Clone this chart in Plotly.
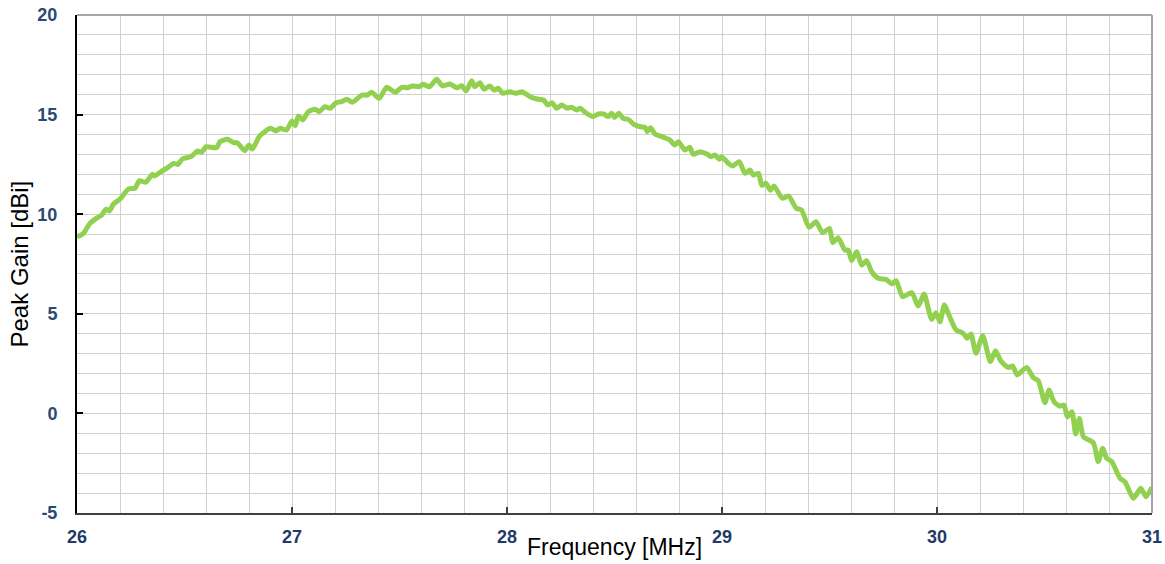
import plotly.graph_objects as go

freq_mhz = [
    26.00, 26.03, 26.06, 26.09, 26.115, 26.135, 26.15, 26.17, 26.20, 26.24,
    26.27, 26.29, 26.32, 26.35, 26.36, 26.39, 26.42, 26.45, 26.47, 26.49,
    26.53, 26.56, 26.58, 26.60, 26.65, 26.665, 26.70, 26.73, 26.745, 26.78,
    26.80, 26.815, 26.85, 26.90, 26.925, 26.945, 26.975, 27.00, 27.015, 27.03,
    27.05, 27.076, 27.107, 27.127, 27.153, 27.177, 27.205, 27.23, 27.255, 27.28,
    27.325, 27.35, 27.37, 27.406, 27.44, 27.48, 27.51, 27.54, 27.56, 27.59,
    27.61, 27.64, 27.673, 27.70, 27.735, 27.766, 27.79, 27.81, 27.836, 27.85,
    27.874, 27.893, 27.92, 27.94, 27.96, 27.98, 28.014, 28.04, 28.07, 28.107,
    28.146, 28.17, 28.19, 28.21, 28.23, 28.255, 28.28, 28.30, 28.324, 28.34,
    28.363, 28.40, 28.425, 28.45, 28.47, 28.487, 28.50, 28.52, 28.54, 28.564,
    28.59, 28.62, 28.642, 28.652, 28.668, 28.688, 28.71, 28.74, 28.758, 28.78,
    28.797, 28.828, 28.85, 28.866, 28.898, 28.93, 28.95, 28.967, 28.987, 28.998,
    29.03, 29.05, 29.08, 29.107, 29.13, 29.145, 29.17, 29.185, 29.205, 29.225,
    29.242, 29.28, 29.31, 29.345, 29.37, 29.405, 29.437, 29.468, 29.50, 29.515,
    29.54, 29.572, 29.587, 29.603, 29.626, 29.65, 29.673, 29.696, 29.727, 29.763,
    29.79, 29.81, 29.84, 29.882, 29.913, 29.94, 29.975, 29.995, 30.014, 30.034,
    30.057, 30.088, 30.122, 30.14, 30.158, 30.181, 30.213, 30.248, 30.272, 30.297,
    30.332, 30.352, 30.373, 30.417, 30.448, 30.471, 30.502, 30.521, 30.544, 30.569,
    30.591, 30.606, 30.627, 30.645, 30.662, 30.681, 30.727, 30.75, 30.771, 30.789,
    30.813, 30.851, 30.874, 30.913, 30.948, 30.972, 31.00,
]

peak_gain_dbi = [
    8.87, 9.04, 9.54, 9.79, 9.96, 10.25, 10.16, 10.51, 10.76, 11.27,
    11.30, 11.68, 11.60, 12.00, 11.92, 12.13, 12.33, 12.55, 12.50, 12.77,
    12.89, 13.17, 13.12, 13.39, 13.34, 13.64, 13.76, 13.59, 13.59, 13.19,
    13.47, 13.27, 13.93, 14.31, 14.18, 14.31, 14.23, 14.68, 14.44, 14.93,
    14.73, 15.15, 15.27, 15.15, 15.40, 15.32, 15.60, 15.65, 15.77, 15.62,
    15.98, 15.98, 16.12, 15.82, 16.37, 16.12, 16.37, 16.35, 16.44, 16.40,
    16.52, 16.40, 16.77, 16.44, 16.54, 16.35, 16.45, 16.20, 16.70, 16.40,
    16.60, 16.27, 16.44, 16.23, 16.32, 16.07, 16.15, 16.07, 16.15, 15.90,
    15.77, 15.73, 15.48, 15.60, 15.32, 15.48, 15.32, 15.37, 15.23, 15.32,
    15.12, 14.90, 15.03, 15.03, 14.90, 15.07, 14.86, 15.07, 14.81, 14.76,
    14.51, 14.39, 14.36, 14.14, 14.34, 14.03, 13.93, 13.81, 13.72, 13.47,
    13.64, 13.22, 13.36, 13.01, 13.14, 13.02, 12.89, 12.97, 12.76, 12.89,
    12.55, 12.42, 12.64, 12.05, 12.22, 11.97, 12.05, 11.45, 11.55, 11.20,
    11.42, 10.80, 10.91, 10.30, 10.21, 9.34, 9.62, 9.07, 9.29, 8.57,
    8.82, 8.20, 8.20, 7.67, 8.12, 7.45, 7.67, 7.11, 6.78, 6.73,
    6.50, 6.66, 5.86, 6.06, 5.39, 5.99, 4.72, 5.05, 4.60, 5.44,
    4.90, 4.20, 4.02, 3.77, 3.99, 3.02, 3.90, 2.60, 3.15, 2.63,
    2.30, 2.38, 1.93, 2.31, 1.79, 1.64, 0.54, 1.17, 0.59, 0.37,
    0.42, -0.17, 0.09, -1.03, -0.25, -1.17, -1.47, -2.42, -1.75, -2.25,
    -2.42, -3.26, -3.43, -4.26, -3.76, -4.18, -3.71,
]

x_ticks = [26, 27, 28, 29, 30, 31]
y_ticks = [-5, 0, 5, 10, 15, 20]

LABEL_FONT = "Liberation Sans, Arial, sans-serif"

fig = go.Figure()
fig.add_trace(go.Scatter(
    x=freq_mhz, y=peak_gain_dbi, mode="lines",
    line=dict(color="#92D050", width=5, shape="spline", smoothing=0.6),
    showlegend=False, hoverinfo="x+y", cliponaxis=False,
))

grid_color = "#D0D0D0"
fig.update_xaxes(
    range=[26, 31], tickvals=x_ticks, ticktext=[str(v) for v in x_ticks],
    showgrid=True, gridcolor=grid_color, gridwidth=1,
    minor=dict(dtick=0.2, showgrid=True, gridcolor=grid_color, gridwidth=1),
    showline=True, linecolor="#404040", linewidth=2,
    ticks="inside", ticklen=6, tickwidth=1.5, tickcolor="#404040",
    tickfont=dict(family=LABEL_FONT, size=18, color="#1F3A68", weight="bold"),
    ticklabelstandoff=6, zeroline=False, automargin=False,
)
fig.update_yaxes(
    range=[-5, 20], tickvals=y_ticks, ticktext=[str(v) for v in y_ticks],
    showgrid=True, gridcolor=grid_color, gridwidth=1,
    minor=dict(dtick=1, showgrid=True, gridcolor=grid_color, gridwidth=1),
    showline=True, linecolor="#000000", linewidth=2,
    ticks="inside", ticklen=6, tickwidth=1.5, tickcolor="#000000",
    tickfont=dict(family=LABEL_FONT, size=18, color="#2A4A72", weight="bold"),
    ticklabelstandoff=14, zeroline=False, automargin=False,
)

# top and right frame lines
fig.add_shape(type="line", xref="paper", yref="paper", x0=0, x1=1, y0=1, y1=1,
              line=dict(color="#A6A6A6", width=2), layer="above")
fig.add_shape(type="line", xref="paper", yref="paper", x0=1, x1=1, y0=0, y1=1,
              line=dict(color="#A6A6A6", width=2), layer="above")

fig.add_annotation(text="Frequency [MHz]", xref="paper", yref="paper",
                   x=0.5, y=-0.0683, xanchor="center", yanchor="middle",
                   showarrow=False,
                   font=dict(family=LABEL_FONT, size=23, color="#000000"))
fig.add_annotation(text="Peak Gain [dBi]", xref="paper", yref="paper",
                   x=-0.0535, y=0.5, xanchor="center", yanchor="middle",
                   textangle=-90, showarrow=False,
                   font=dict(family=LABEL_FONT, size=24, color="#000000"))

fig.update_layout(
    width=1165, height=564,
    margin=dict(l=77, r=13, t=15, b=51, autoexpand=False),
    paper_bgcolor="white", plot_bgcolor="white",
)

fig.write_html("out.html")
